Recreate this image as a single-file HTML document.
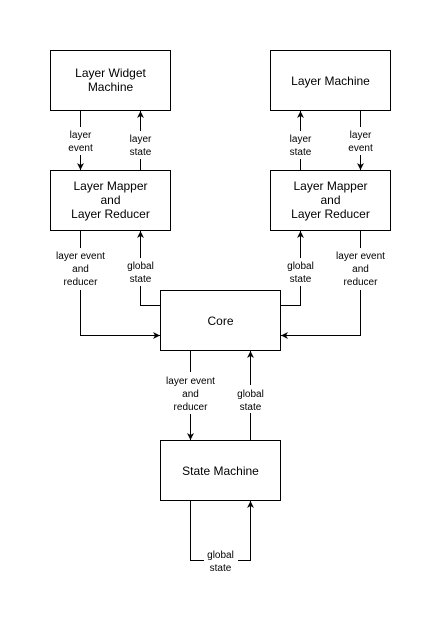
<!DOCTYPE html>
<html><head><style>body{margin:0;background:#fff}</style></head><body>
<svg width="441" height="623" xmlns="http://www.w3.org/2000/svg" font-family="Liberation Sans, Helvetica, sans-serif">
<defs><marker id="a" markerWidth="8" markerHeight="8" refX="7" refY="4" orient="auto" markerUnits="userSpaceOnUse"><path d="M0,0.5 L7,4 L0,7.5 L2,4 Z" fill="#000"/></marker></defs>
<g fill="#fff" stroke="#000" stroke-width="1">
<rect x="50.5" y="50.5" width="120" height="60"/>
<rect x="270.5" y="50.5" width="120" height="60"/>
<rect x="50.5" y="170.5" width="120" height="60"/>
<rect x="270.5" y="170.5" width="120" height="60"/>
<rect x="160.5" y="290.5" width="120" height="60"/>
<rect x="160.5" y="440.5" width="120" height="60"/>
</g>
<g fill="none" stroke="#000" stroke-width="1" marker-end="url(#a)">
<path d="M80.5 110.5 V170"/>
<path d="M140.5 170.5 V111"/>
<path d="M300.5 170.5 V111"/>
<path d="M360.5 110.5 V170"/>
<path d="M80.5 230.5 V335.5 H160"/>
<path d="M160.5 305.5 H140.5 V231"/>
<path d="M280.5 305.5 H300.5 V231"/>
<path d="M360.5 230.5 V335.5 H281"/>
<path d="M190.5 350.5 V440"/>
<path d="M250.5 440.5 V351"/>
<path d="M190.5 500.5 V560.5 H250.5 V501"/>
</g>
<g font-size="12" text-anchor="middle" fill="#000">
<text x="110.5" y="77">Layer Widget</text><text x="110.5" y="91">Machine</text>
<text x="330.5" y="85">Layer Machine</text>
<text x="110.5" y="190">Layer Mapper</text><text x="110.5" y="204">and</text><text x="110.5" y="218">Layer Reducer</text>
<text x="330.5" y="190">Layer Mapper</text><text x="330.5" y="204">and</text><text x="330.5" y="218">Layer Reducer</text>
<text x="220.5" y="325">Core</text>
<text x="220.5" y="475">State Machine</text>
</g>
<g font-size="10" text-anchor="middle" fill="#000">
<rect x="64" y="127" width="34" height="28" fill="#fff"/>
<text x="80.5" y="138">layer</text><text x="80.5" y="151">event</text>
<rect x="124" y="131" width="34" height="28" fill="#fff"/>
<text x="140.5" y="142">layer</text><text x="140.5" y="155">state</text>
<rect x="284" y="131" width="34" height="28" fill="#fff"/>
<text x="300.5" y="142">layer</text><text x="300.5" y="155">state</text>
<rect x="344" y="127" width="34" height="28" fill="#fff"/>
<text x="360.5" y="138">layer</text><text x="360.5" y="151">event</text>
<rect x="50" y="248" width="62" height="42" fill="#fff"/>
<text x="80.5" y="259">layer event</text><text x="80.5" y="272">and</text><text x="80.5" y="285">reducer</text>
<rect x="124" y="258" width="34" height="28" fill="#fff"/>
<text x="140.5" y="269">global</text><text x="140.5" y="282">state</text>
<rect x="284" y="258" width="34" height="28" fill="#fff"/>
<text x="300.5" y="269">global</text><text x="300.5" y="282">state</text>
<rect x="330" y="248" width="62" height="42" fill="#fff"/>
<text x="360.5" y="259">layer event</text><text x="360.5" y="272">and</text><text x="360.5" y="285">reducer</text>
<rect x="160" y="372" width="62" height="42" fill="#fff"/>
<text x="190.5" y="384">layer event</text><text x="190.5" y="397">and</text><text x="190.5" y="410">reducer</text>
<rect x="234" y="385" width="34" height="28" fill="#fff"/>
<text x="250.5" y="397">global</text><text x="250.5" y="410">state</text>
<rect x="204" y="549" width="34" height="24" fill="#fff"/>
<text x="220.5" y="558">global</text><text x="220.5" y="571">state</text>
</g>
</svg>
</body></html>
